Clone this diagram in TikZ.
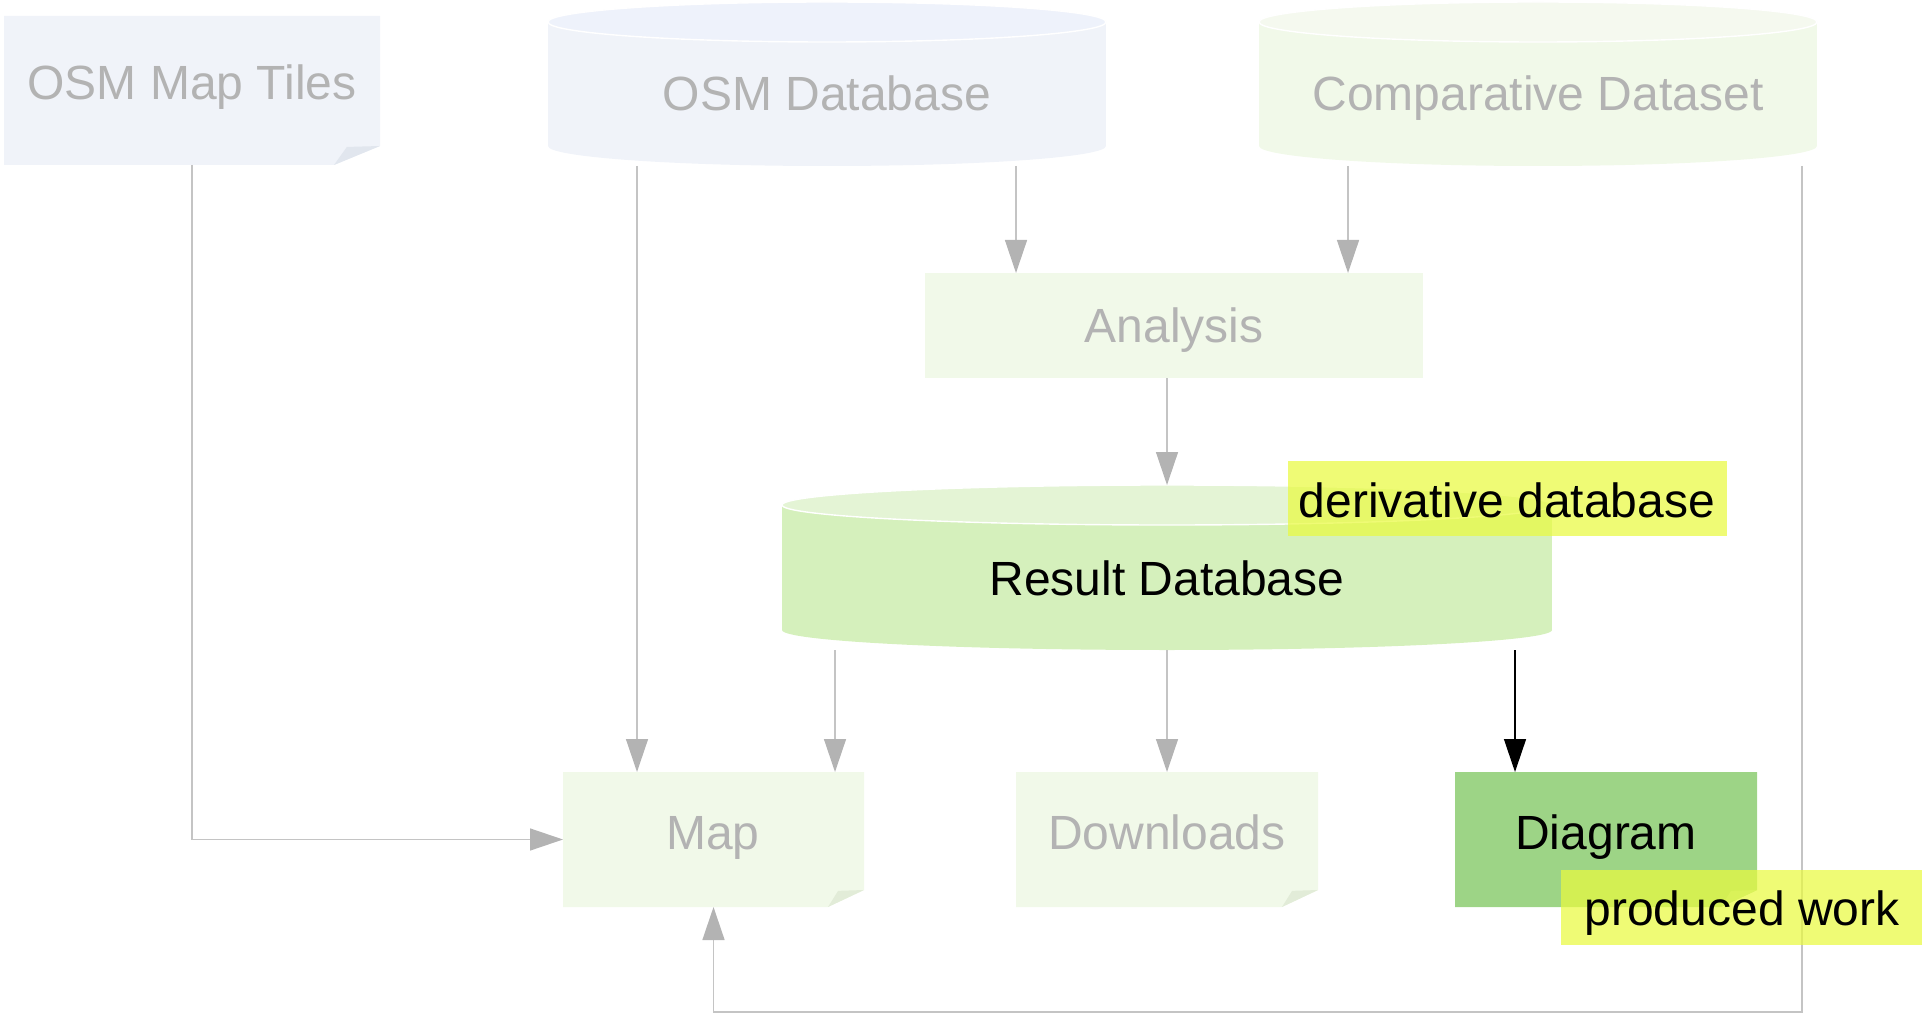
\documentclass[tikz,border=0pt]{standalone}
\usepackage{fontspec}
\setmainfont{Liberation Sans}
\usetikzlibrary{arrows.meta,calc}
\definecolor{bluefill}{HTML}{F0F3F9}
\definecolor{bluetop}{HTML}{EEF2FB}
\definecolor{bluefold}{HTML}{E1E6EE}
\definecolor{greenfill}{HTML}{F1F9E9}
\definecolor{greentop}{HTML}{F5F9EF}
\definecolor{greenfold}{HTML}{E2ECD8}
\definecolor{resbody}{HTML}{D5F0BC}
\definecolor{restop}{HTML}{E4F4D5}
\definecolor{diagfill}{HTML}{9DD486}
\definecolor{diagfold}{HTML}{B6E09C}
\definecolor{labyellow}{HTML}{E9FA40}
\definecolor{textgray}{HTML}{B3B3B3}
\definecolor{linegray}{HTML}{C4C4C4}
\definecolor{tipgray}{HTML}{B3B3B3}

\newcommand\docshape[5]{% name, fill, fold, cut width, cut height (px)
  \fill[#2] (#1.north west) -- (#1.north east) -- ($(#1.south east)+(0,-#5)$)
        -- ($(#1.south east)+(-#4,0)$) -- (#1.south west) -- cycle;
  \fill[#3] ($(#1.south east)+(-#4,0)$) -- ($(#1.south east)+(-#4*0.72,-#5*0.95)$)
        -- ($(#1.south east)+(0,-#5)$) -- cycle;
}
\newcommand\dbshape[5]{% name, body, top, rx (px), ry (px)
  \fill[#2] ($(#1.north west)+(0,#5)$) rectangle ($(#1.south east)+(0,-#5)$);
  \fill[#2] ($(#1.south)+(0,-#5)$) ellipse [x radius=#4*0.5pt, y radius=#5*0.5pt];
  \filldraw[fill=#3, draw=white, line width=0.7pt] ($(#1.north)+(0,#5)$)
        ellipse [x radius=#4*0.5pt, y radius=#5*0.5pt];
}

\begin{document}
\begin{tikzpicture}[x=0.5pt,y=-0.5pt,
  box/.style={inner sep=0pt, outer sep=0pt, draw=none},
  sz/.style 2 args={minimum width=#1*0.5pt, minimum height=#2*0.5pt},
  txt/.style={anchor=base, inner sep=0pt, font=\fontsize{24}{28}\selectfont, text=textgray},
  dtxt/.style={txt, text=black},
  lab/.style={box, fill=labyellow, fill opacity=0.72},
  arr/.style={draw=linegray, line width=0.7pt,
     -{Triangle[length=16.5pt, width=11pt, color=tipgray, fill=tipgray]}},
  darr/.style={draw=black, line width=0.7pt,
     -{Triangle[length=16.5pt, width=11pt, color=black, fill=black]}}]
\useasboundingbox (0,0) rectangle (1922,1016);

% shape frames
\node[box, sz={376}{149}] (tiles) at (192,90.5) {};
\node[box, sz={558}{164}] (osmdb) at (827,84) {};
\node[box, sz={558}{164}] (comp) at (1538,84) {};
\node[box, sz={498}{105}] (analysis) at (1174,325.5) {};
\node[box, sz={770}{165}] (resdb) at (1167,567.5) {};
\node[box, sz={301}{135}] (map) at (713.5,839.5) {};
\node[box, sz={302}{135}] (down) at (1167,839.5) {};
\node[box, sz={302}{135}] (diag) at (1606,839.5) {};

% fills
\docshape{tiles}{bluefill}{bluefold}{46}{19}
\dbshape{osmdb}{bluefill}{bluetop}{279}{20}
\dbshape{comp}{greenfill}{greentop}{279}{20}
\fill[greenfill] (analysis.north west) rectangle (analysis.south east);
\dbshape{resdb}{resbody}{restop}{385}{20}
\docshape{map}{greenfill}{greenfold}{36}{17}
\docshape{down}{greenfill}{greenfold}{36}{17}
\docshape{diag}{diagfill}{diagfold}{36}{17}

% connectors
\draw[arr] (tiles.south) |- (map.west);
\draw[arr] ($(osmdb.south)+(-190,0)$) -- ($(map.north west)+(74,0)$);
\draw[arr] ($(osmdb.south)+(189,0)$) -- ($(analysis.north west)+(91,0)$);
\draw[arr] ($(comp.south)+(-190,0)$) -- ($(analysis.north east)+(-75,0)$);
\draw[arr] (analysis.south -| resdb.north) -- (resdb.north);
\draw[arr] ($(resdb.south west)+(53,0)$) -- ($(map.north east)+(-29,0)$);
\draw[arr] (resdb.south) -- (down.north);
\draw[darr] ($(resdb.south east)+(-37,0)$) -- ($(diag.north west)+(60,0)$);
\coordinate (loopc) at ($(map.south)+(0,105)$);
\draw[arr] ($(comp.south east)+(-15,0)$) |- (loopc) -- (map.south);

% labels
\node[lab, sz={439}{75}] (deriv) at (1507.5,498.5) {};
\node[lab, sz={362}{75}] (prod) at (1742,907.5) {};

% texts
\node[txt] (tilesT) at (192,100) {OSM Map Tiles};
\node[txt] (osmdbT) at (827,111) {OSM Database};
\node[txt] (compT) at (1538,111) {Comparative Dataset};
\node[txt] (analysisT) at (1174,343) {Analysis};
\node[dtxt] (resdbT) at (1167,595) {Result Database};
\node[txt] (mapT) at (713,849) {Map};
\node[txt] (downT) at (1167,849) {Downloads};
\node[dtxt] (diagT) at (1606,849) {Diagram};
\node[dtxt] (derivT) at (1507,517) {derivative database};
\node[dtxt] (prodT) at (1742,925) {produced work};
\end{tikzpicture}
\end{document}
